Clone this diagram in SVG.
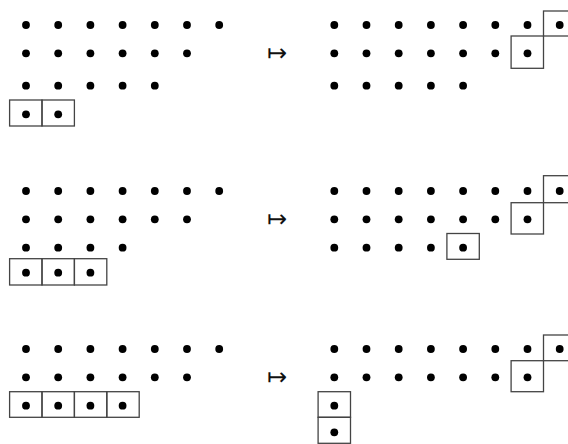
<svg xmlns="http://www.w3.org/2000/svg" width="568" height="444" viewBox="0 0 568 444">
<style>
.d{fill:#000}
.b{fill:none;stroke:#444;stroke-width:1.3}
.m{font-family:"DejaVu Sans",sans-serif;font-size:24px;fill:#111;text-anchor:middle}
</style>
<defs>
<circle id="p" r="3.9" class="d"/>
</defs>
<rect width="568" height="444" fill="#fff"/>

<g id="left1">
<use href="#p" x="26" y="25"/><use href="#p" x="58.2" y="25"/><use href="#p" x="90.4" y="25"/><use href="#p" x="122.6" y="25"/><use href="#p" x="154.8" y="25"/><use href="#p" x="187" y="25"/><use href="#p" x="219.2" y="25"/>
<use href="#p" x="26" y="53.3"/><use href="#p" x="58.2" y="53.3"/><use href="#p" x="90.4" y="53.3"/><use href="#p" x="122.6" y="53.3"/><use href="#p" x="154.8" y="53.3"/><use href="#p" x="187" y="53.3"/>
<use href="#p" x="26" y="85.7"/><use href="#p" x="58.2" y="85.7"/><use href="#p" x="90.4" y="85.7"/><use href="#p" x="122.6" y="85.7"/><use href="#p" x="154.8" y="85.7"/>
<rect class="b" x="9.6" y="100" width="32.4" height="26"/><rect class="b" x="42" y="100" width="32.4" height="26"/>
<use href="#p" x="26" y="114.3"/><use href="#p" x="58.2" y="114.3"/>
</g>

<g id="right1">
<use href="#p" x="334.3" y="25"/><use href="#p" x="366.5" y="25"/><use href="#p" x="398.7" y="25"/><use href="#p" x="430.9" y="25"/><use href="#p" x="463.1" y="25"/><use href="#p" x="495.3" y="25"/><use href="#p" x="527.5" y="25"/><use href="#p" x="559.7" y="25"/>
<use href="#p" x="334.3" y="53.3"/><use href="#p" x="366.5" y="53.3"/><use href="#p" x="398.7" y="53.3"/><use href="#p" x="430.9" y="53.3"/><use href="#p" x="463.1" y="53.3"/><use href="#p" x="495.3" y="53.3"/><use href="#p" x="527.5" y="53.3"/>
<use href="#p" x="334.3" y="85.7"/><use href="#p" x="366.5" y="85.7"/><use href="#p" x="398.7" y="85.7"/><use href="#p" x="430.9" y="85.7"/><use href="#p" x="463.1" y="85.7"/>
<rect class="b" x="543.5" y="11" width="32.4" height="25"/>
<rect class="b" x="511.1" y="36" width="32.4" height="32.3"/>
</g>

<g id="left2">
<use href="#p" x="26" y="191"/><use href="#p" x="58.2" y="191"/><use href="#p" x="90.4" y="191"/><use href="#p" x="122.6" y="191"/><use href="#p" x="154.8" y="191"/><use href="#p" x="187" y="191"/><use href="#p" x="219.2" y="191"/>
<use href="#p" x="26" y="219.3"/><use href="#p" x="58.2" y="219.3"/><use href="#p" x="90.4" y="219.3"/><use href="#p" x="122.6" y="219.3"/><use href="#p" x="154.8" y="219.3"/><use href="#p" x="187" y="219.3"/>
<use href="#p" x="26" y="247.7"/><use href="#p" x="58.2" y="247.7"/><use href="#p" x="90.4" y="247.7"/><use href="#p" x="122.6" y="247.7"/>
<rect class="b" x="9.6" y="258.7" width="32.4" height="26.3"/><rect class="b" x="42" y="258.7" width="32.4" height="26.3"/><rect class="b" x="74.4" y="258.7" width="32.4" height="26.3"/>
<use href="#p" x="26" y="272.7"/><use href="#p" x="58.2" y="272.7"/><use href="#p" x="90.4" y="272.7"/>
</g>

<g id="right2">
<use href="#p" x="334.3" y="191"/><use href="#p" x="366.5" y="191"/><use href="#p" x="398.7" y="191"/><use href="#p" x="430.9" y="191"/><use href="#p" x="463.1" y="191"/><use href="#p" x="495.3" y="191"/><use href="#p" x="527.5" y="191"/><use href="#p" x="559.7" y="191"/>
<use href="#p" x="334.3" y="219.3"/><use href="#p" x="366.5" y="219.3"/><use href="#p" x="398.7" y="219.3"/><use href="#p" x="430.9" y="219.3"/><use href="#p" x="463.1" y="219.3"/><use href="#p" x="495.3" y="219.3"/><use href="#p" x="527.5" y="219.3"/>
<use href="#p" x="334.3" y="247.7"/><use href="#p" x="366.5" y="247.7"/><use href="#p" x="398.7" y="247.7"/><use href="#p" x="430.9" y="247.7"/><use href="#p" x="463.1" y="247.7"/>
<rect class="b" x="543.5" y="175.7" width="32.4" height="27"/>
<rect class="b" x="511.1" y="202.7" width="32.4" height="31.3"/>
<rect class="b" x="446.9" y="233.5" width="32.4" height="25.8"/>
</g>

<g id="left3">
<use href="#p" x="26" y="349"/><use href="#p" x="58.2" y="349"/><use href="#p" x="90.4" y="349"/><use href="#p" x="122.6" y="349"/><use href="#p" x="154.8" y="349"/><use href="#p" x="187" y="349"/><use href="#p" x="219.2" y="349"/>
<use href="#p" x="26" y="377.3"/><use href="#p" x="58.2" y="377.3"/><use href="#p" x="90.4" y="377.3"/><use href="#p" x="122.6" y="377.3"/><use href="#p" x="154.8" y="377.3"/><use href="#p" x="187" y="377.3"/>
<rect class="b" x="9.6" y="391.7" width="32.4" height="25.6"/><rect class="b" x="42" y="391.7" width="32.4" height="25.6"/><rect class="b" x="74.4" y="391.7" width="32.4" height="25.6"/><rect class="b" x="106.8" y="391.7" width="32.4" height="25.6"/>
<use href="#p" x="26" y="405.7"/><use href="#p" x="58.2" y="405.7"/><use href="#p" x="90.4" y="405.7"/><use href="#p" x="122.6" y="405.7"/>
</g>

<g id="right3">
<use href="#p" x="334.3" y="349"/><use href="#p" x="366.5" y="349"/><use href="#p" x="398.7" y="349"/><use href="#p" x="430.9" y="349"/><use href="#p" x="463.1" y="349"/><use href="#p" x="495.3" y="349"/><use href="#p" x="527.5" y="349"/><use href="#p" x="559.7" y="349"/>
<use href="#p" x="334.3" y="377.3"/><use href="#p" x="366.5" y="377.3"/><use href="#p" x="398.7" y="377.3"/><use href="#p" x="430.9" y="377.3"/><use href="#p" x="463.1" y="377.3"/><use href="#p" x="495.3" y="377.3"/><use href="#p" x="527.5" y="377.3"/>
<rect class="b" x="543.5" y="335" width="32.4" height="25.7"/>
<rect class="b" x="511.1" y="360.7" width="32.4" height="31"/>
<rect class="b" x="318.1" y="391.7" width="32.4" height="25.6"/>
<rect class="b" x="318.1" y="417.3" width="32.4" height="26"/>
<use href="#p" x="334.3" y="405.7"/><use href="#p" x="334.3" y="432.3"/>
</g>

<g id="connectors">
<text class="m" x="277.3" y="61">↦</text>
<text class="m" x="277.3" y="227">↦</text>
<text class="m" x="277.3" y="385">↦</text>
</g>
</svg>
